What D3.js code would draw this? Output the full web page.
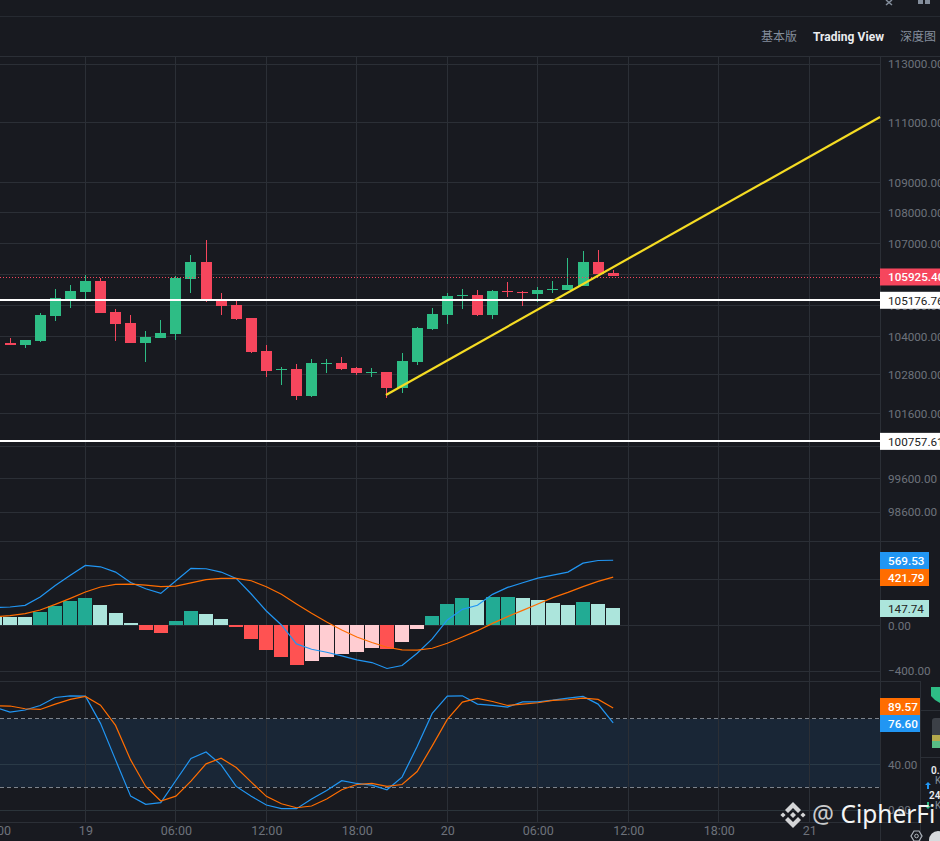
<!doctype html>
<html lang="zh">
<head>
<meta charset="UTF-8" />
<title>Trading View</title>
<script src="https://d3js.org/d3.v7.min.js"></script>
<style>
  html, body { margin: 0; padding: 0; background: #181a20; overflow: hidden; }
  svg { display: block; }
  text { font-family: Roboto, "Noto Sans CJK SC", sans-serif; }
</style>
</head>
<body>
<div id="graph"></div>
<script>
// hourly candles, first one is 19:00 of the day before
var candleStart = -5;
var opens  = [103805,103742,103868,104661,105203,105428,105781,104789,104439,103805,103962,104090,105845,106394,105203,105012,104598,103553,102956,102987,102144,103144,103176,103019,102862,102893,102393,103207,104248,104693,105299,105332,104693,105460,105428,105364,105492,105492,105620,106394,106039];
var highs  = [103962,103899,104757,105524,105653,105975,105877,104884,104693,104185,104534,105942,106621,107109,105396,105139,104598,103742,103050,103144,103301,103301,103365,103050,103019,102893,103490,104312,104916,105396,105524,105492,105492,105749,105460,105588,105781,106523,106751,106783,106136];
var lows   = [103742,103648,103836,104502,104916,105139,104757,103868,103805,103207,103962,103899,105396,105107,104693,104534,103490,102736,102486,102020,102113,102862,102956,102799,102736,102082,102238,103113,104216,104407,104884,104661,104566,105267,104980,105107,105396,105492,105620,106007,105925];
var closes = [103742,103899,104693,105235,105460,105781,104757,104407,103805,103993,104121,105877,106394,105171,104980,104566,103522,102925,102987,102144,103176,103176,102987,102862,102893,102393,103239,104280,104725,105299,105332,104693,105460,105428,105396,105492,105524,105653,106394,106007,105925];

var lastPrice = 105925.40;
var levels = [105176.76, 100757.61];
var trendHours = [19.93, 52.7];
var trendPrices = [102175, 111193];
var priceTicks = [113000,111000,109000,108000,107000,106000,105000,104000,102800,101600,100600,99600,98600];

// indicators start one hour earlier than the candles
var indicatorStart = -6;
var macdHist = [74,73,72,116,169,212,239,178,108,20,-41,-67,38,125,99,55,-15,-119,-215,-276,-346,-311,-276,-250,-233,-198,-207,-146,-32,81,186,239,221,247,248,239,221,195,178,204,186,147.74];
var macdLine = [154,160,175,247,349,439,524,512,466,375,320,279,390,498,495,466,410,274,125,3,-163,-210,-236,-268,-303,-326,-378,-352,-244,-119,47,140,175,271,332,372,413,439,466,544,567,569.53];
var macdSignal = [76,84,102,134,183,236,291,335,358,361,352,338,343,372,399,410,410,390,338,271,186,105,29,-41,-102,-151,-192,-215,-218,-201,-157,-102,-47,17,76,131,186,242,288,338,384,421.79];
var macdTicks = [400,0,-400];

var stochK = [90.1,86.0,87.8,91.8,98.8,100.3,100,76.1,44.0,12.2,5.0,6.4,25.9,45.2,51.0,39.7,20.7,12.0,4.4,1.2,1.2,9.6,17.2,25.7,23.3,21.9,17.8,28.9,55.7,84.8,100,100.3,93.0,91.8,90.4,95.0,95.0,96.5,98.3,99.7,93.0,76.60];
var stochD = [91.5,91.3,88.9,88.3,93.0,97.1,99.7,92.1,74.3,44.0,20.7,7.9,12.2,25.4,40.5,45.5,37.3,24.5,12.0,5.5,2.0,3.5,9.6,17.8,22.4,23.3,20.7,22.4,33.8,56.3,79.6,94.8,98.0,95.3,91.8,93.0,94.2,96.2,96.8,98.3,97.1,89.57];
var stochTicks = [40,0];
var stochBand = [80,20];

var timeHours = [-6,0,6,12,18,24,30,36,42,48];
var timeLabels = ["18:00","19","06:00","12:00","18:00","20","06:00","12:00","18:00","21"];

var width = 940, height = 841;
var axisX = 880.5;
var green = "#2ebd85", red = "#f6465d";
var gridColor = "#2b2f36", tickColor = "#6d727b";
var axisFontSize = 11.7;

var x = d3.scaleLinear().domain([0, 48]).range([85.4, 809.2]);
var yPrice = d3.scaleLog().domain([113000, 98600]).range([64, 512]);
var yMacd = d3.scaleLinear().domain([0, -400]).range([625.3, 671]);
var yStoch = d3.scaleLinear().domain([0, 80]).range([810, 718.9]);

var svg = d3.select("#graph").append("svg").attr("width", width).attr("height", height);
svg.append("rect").attr("width", width).attr("height", height).attr("fill", "#181a20");

function crisp(v) { return Math.round(v - 0.5) + 0.5; }

function hLine(g, y, x2, color) {
    g.append("line").attr("x1", 0).attr("x2", x2).attr("y1", crisp(y)).attr("y2", crisp(y))
        .attr("stroke", color).attr("stroke-width", 1);
}

// ---- frame and grid
var grid = svg.append("g");
grid.append("rect").attr("x", 0).attr("width", axisX)
    .attr("y", yStoch(stochBand[0])).attr("height", yStoch(stochBand[1]) - yStoch(stochBand[0]))
    .attr("fill", "#192636");

hLine(grid, 16, width, "#262a31");
hLine(grid, 56, width, gridColor);
hLine(grid, 541, 920, gridColor);
hLine(grid, 681, 920, gridColor);
hLine(grid, 822, 920, gridColor);

priceTicks.forEach(function(d) { hLine(grid, yPrice(d), axisX, gridColor); });
macdTicks.forEach(function(d) { hLine(grid, yMacd(d), axisX, gridColor); });
stochTicks.forEach(function(d) { hLine(grid, yStoch(d), axisX, d === 40 ? "#2a3a47" : "#2b343a"); });

grid.selectAll(".vgrid").data(timeHours.slice(1)).enter().append("line")
    .attr("x1", function(d) { return crisp(x(d)); })
    .attr("x2", function(d) { return crisp(x(d)); })
    .attr("y1", 56).attr("y2", 822)
    .attr("stroke", gridColor);

grid.append("line").attr("x1", axisX).attr("x2", axisX).attr("y1", 56).attr("y2", height)
    .attr("stroke", gridColor);

stochBand.forEach(function(d) {
    grid.append("line").attr("x1", 0).attr("x2", axisX)
        .attr("y1", crisp(yStoch(d))).attr("y2", crisp(yStoch(d)))
        .attr("stroke", "#7d838c").attr("stroke-dasharray", "4,3");
});

// ---- candles
var candles = opens.map(function(o, i) {
    return { hour: candleStart + i, open: o, high: highs[i], low: lows[i], close: closes[i] };
});
function candleColor(d) { return d.close >= d.open ? green : red; }

var candle = svg.append("g").attr("shape-rendering", "crispEdges")
    .selectAll("g").data(candles).enter().append("g");
candle.append("line")
    .attr("x1", function(d) { return crisp(x(d.hour)); })
    .attr("x2", function(d) { return crisp(x(d.hour)); })
    .attr("y1", function(d) { return yPrice(d.high); })
    .attr("y2", function(d) { return yPrice(d.low); })
    .attr("stroke", candleColor);
candle.append("rect")
    .attr("x", function(d) { return crisp(x(d.hour)) - 5.5; })
    .attr("width", 11)
    .attr("y", function(d) { return yPrice(Math.max(d.open, d.close)); })
    .attr("height", function(d) { return Math.max(1, Math.abs(yPrice(d.open) - yPrice(d.close))); })
    .attr("fill", candleColor);

// ---- price lines
svg.append("line").attr("x1", 0).attr("x2", axisX)
    .attr("y1", crisp(yPrice(lastPrice)) + 1).attr("y2", crisp(yPrice(lastPrice)) + 1)
    .attr("stroke", red).attr("stroke-dasharray", "1,2").attr("shape-rendering", "crispEdges");

levels.forEach(function(d) {
    svg.append("line").attr("x1", 0).attr("x2", axisX)
        .attr("y1", Math.round(yPrice(d))).attr("y2", Math.round(yPrice(d)))
        .attr("stroke", "#fff").attr("stroke-width", 2);
});

svg.append("line")
    .attr("x1", x(trendHours[0])).attr("y1", yPrice(trendPrices[0]))
    .attr("x2", x(trendHours[1])).attr("y2", yPrice(trendPrices[1]))
    .attr("stroke", "#f5dc23").attr("stroke-width", 2.2);

// ---- MACD
function histColor(d, i) {
    var prev = i > 0 ? macdHist[i - 1] : d;
    if (d >= 0) return d > prev ? "#22ab94" : "#ace5dc";
    return d < prev ? "#ff5252" : "#ffcdd2";
}
svg.append("g").attr("shape-rendering", "crispEdges")
    .selectAll("rect").data(macdHist).enter().append("rect")
    .attr("x", function(d, i) { return Math.round(x(indicatorStart + i)) - 7; })
    .attr("width", 14)
    .attr("y", function(d) { return Math.min(yMacd(d), yMacd(0)); })
    .attr("height", function(d) { return Math.abs(yMacd(d) - yMacd(0)); })
    .attr("fill", histColor);

function drawLine(values, yScale, color) {
    var line = d3.line()
        .x(function(d, i) { return x(indicatorStart + i); })
        .y(function(d) { return yScale(d); });
    svg.append("path").attr("d", line(values))
        .attr("fill", "none").attr("stroke", color).attr("stroke-width", 1.2);
}
drawLine(macdLine, yMacd, "#2196f3");
drawLine(macdSignal, yMacd, "#ff6d00");

// ---- stochastic
drawLine(stochK, yStoch, "#2196f3");
drawLine(stochD, yStoch, "#ff6d00");

// ---- axes
function styleAxis(g) {
    g.select(".domain").remove();
    g.selectAll(".tick line").remove();
    g.selectAll("text").attr("fill", tickColor).style("font-size", axisFontSize + "px")
        .style("font-family", "Roboto, sans-serif");
}

svg.append("g").attr("transform", "translate(" + (axisX + 7.5) + ",0)")
    .call(d3.axisRight(yPrice).tickValues(priceTicks).tickFormat(d3.format(".2f")).tickSize(0).tickPadding(0))
    .call(styleAxis);
svg.append("g").attr("transform", "translate(" + (axisX + 7.5) + ",0)")
    .call(d3.axisRight(yMacd).tickValues([0, -400]).tickFormat(d3.format(".2f")).tickSize(0).tickPadding(0))
    .call(styleAxis);
svg.append("g").attr("transform", "translate(" + (axisX + 7.5) + ",0)")
    .call(d3.axisRight(yStoch).tickValues(stochTicks).tickFormat(d3.format(".2f")).tickSize(0).tickPadding(0))
    .call(styleAxis);
svg.append("g").attr("transform", "translate(0,826)")
    .call(d3.axisBottom(x).tickValues(timeHours)
        .tickFormat(function(d, i) { return timeLabels[i]; }).tickSize(0).tickPadding(0))
    .call(styleAxis);
svg.selectAll("g text").filter(function() { return this.parentNode.classList.contains("tick") && d3.select(this).attr("dy") === "0.71em"; })
    .style("font-size", "12.5px");

// value tags on the right
function tag(text, top, w, fill, color, bold) {
    svg.append("rect").attr("x", axisX - 0.5).attr("y", top).attr("width", w).attr("height", 17).attr("fill", fill);
    svg.append("text").attr("x", axisX + 7.5).attr("y", top + 13).text(text)
        .attr("fill", color).attr("font-size", axisFontSize).attr("font-weight", bold ? 500 : 400);
}
var fmt = d3.format(".2f");
tag(fmt(lastPrice), yPrice(lastPrice) - 8, 60, red, "#fff", true);
tag(fmt(levels[0]), yPrice(levels[0]) - 8, 60, "#fff", "#222", false);
tag(fmt(levels[1]), yPrice(levels[1]) - 8, 60, "#fff", "#222", false);
tag(fmt(macdLine[macdLine.length - 1]), 552, 49, "#2196f3", "#fff", true);
tag(fmt(macdSignal[macdSignal.length - 1]), 569, 49, "#ff6d00", "#fff", true);
tag(fmt(macdHist[macdHist.length - 1]), 600, 49, "#ace5dc", "#222", false);
tag(fmt(stochD[stochD.length - 1]), 698, 43, "#ff6d00", "#fff", true);
tag(fmt(stochK[stochK.length - 1]), 715, 43, "#2196f3", "#fff", true);

// ---- header tabs
function label(t, px, py, size, color, weight) {
    return svg.append("text").attr("x", px).attr("y", py).text(t)
        .attr("font-size", size).attr("fill", color).attr("font-weight", weight || 400);
}
label("基本版", 761, 41, 12, "#848e9c").style("font-family", '"Noto Sans CJK SC"');
label("Trading View", 813, 41, 12, "#eaecef", 700).attr("textLength", 71);
label("深度图", 900, 41, 12, "#848e9c").style("font-family", '"Noto Sans CJK SC"');

// small cut off icons at the very top
svg.append("path").attr("d", "M886,0 L892,5 M892,0 L886,5").attr("stroke", "#848e9c").attr("stroke-width", 1.5);
svg.append("rect").attr("x", 918).attr("y", 0).attr("width", 5).attr("height", 4).attr("fill", "#848e9c");
svg.append("rect").attr("x", 925).attr("y", 0).attr("width", 5).attr("height", 4).attr("fill", "#848e9c");

// ---- right side panel, mostly cut off
var side = svg.append("g");
side.append("rect").attr("x", 920).attr("y", 681).attr("width", 20).attr("height", 160).attr("fill", "#181a20");
side.append("line").attr("x1", 920.5).attr("x2", 920.5).attr("y1", 681).attr("y2", 841).attr("stroke", gridColor);
side.append("path").attr("d", "M931,687 H940 V703 L935,700 L931,696 Z").attr("fill", "#2ebd85");
side.append("line").attr("x1", 921).attr("x2", 940).attr("y1", 710.5).attr("y2", 710.5).attr("stroke", gridColor);
side.append("rect").attr("x", 932).attr("y", 718).attr("width", 12).attr("height", 30).attr("rx", 3).attr("fill", "#3c4047");
side.append("rect").attr("x", 932).attr("y", 735).attr("width", 12).attr("height", 6).attr("fill", "#b5a94c");
side.append("rect").attr("x", 932).attr("y", 741).attr("width", 12).attr("height", 7).attr("fill", "#58bd85");
side.append("line").attr("x1", 921).attr("x2", 940).attr("y1", 757.5).attr("y2", 757.5).attr("stroke", gridColor);
label("0.:", 931, 774, 10, "#eaecef", 600);
label("K", 935, 784, 10, "#848e9c");
label("24", 929, 799, 10, "#eaecef", 600);
label("K", 935, 809, 10, "#848e9c");
side.append("path").attr("d", "M928,782 l-3,3 h2 v4 h2 v-4 h2 Z").attr("fill", "#2196f3");
side.append("path").attr("d", "M928,809 l-3,-3 h2 v-4 h2 v4 h2 Z").attr("fill", "#2ebd85");
side.append("path").attr("d", "M911,836 l3,-5 h5 l3,5 l-3,5 h-5 Z").attr("fill", "none").attr("stroke", "#aeb4bc").attr("stroke-width", 1.2);
side.append("circle").attr("cx", 916.5).attr("cy", 836).attr("r", 1.8).attr("fill", "none").attr("stroke", "#aeb4bc");
side.append("circle").attr("cx", 938).attr("cy", 840).attr("r", 9).attr("fill", "#d8dadd");

// ---- watermark
var mark = svg.append("g").attr("fill", "#d4d5d7");
mark.append("path").attr("d", "M793,802 L801,810 L798,813 L793,808 L788,813 L785,810 Z");
mark.append("path").attr("d", "M793,828 L801,820 L798,817 L793,822 L788,817 L785,820 Z");
mark.append("path").attr("d", "M783,812.4 L785.6,815 L783,817.6 L780.4,815 Z");
mark.append("path").attr("d", "M803,812.4 L805.6,815 L803,817.6 L800.4,815 Z");
mark.append("path").attr("d", "M793,812 L796,815 L793,818 L790,815 Z");
var wm = svg.append("text").attr("x", 812).attr("y", 823).attr("font-size", 24.5)
    .style("font-family", '"Noto Sans", sans-serif');
wm.append("tspan").text("@ ").attr("fill", "#c9cacc");
wm.append("tspan").text("CipherFi").attr("fill", "#f4f5f5");
</script>
</body>
</html>
